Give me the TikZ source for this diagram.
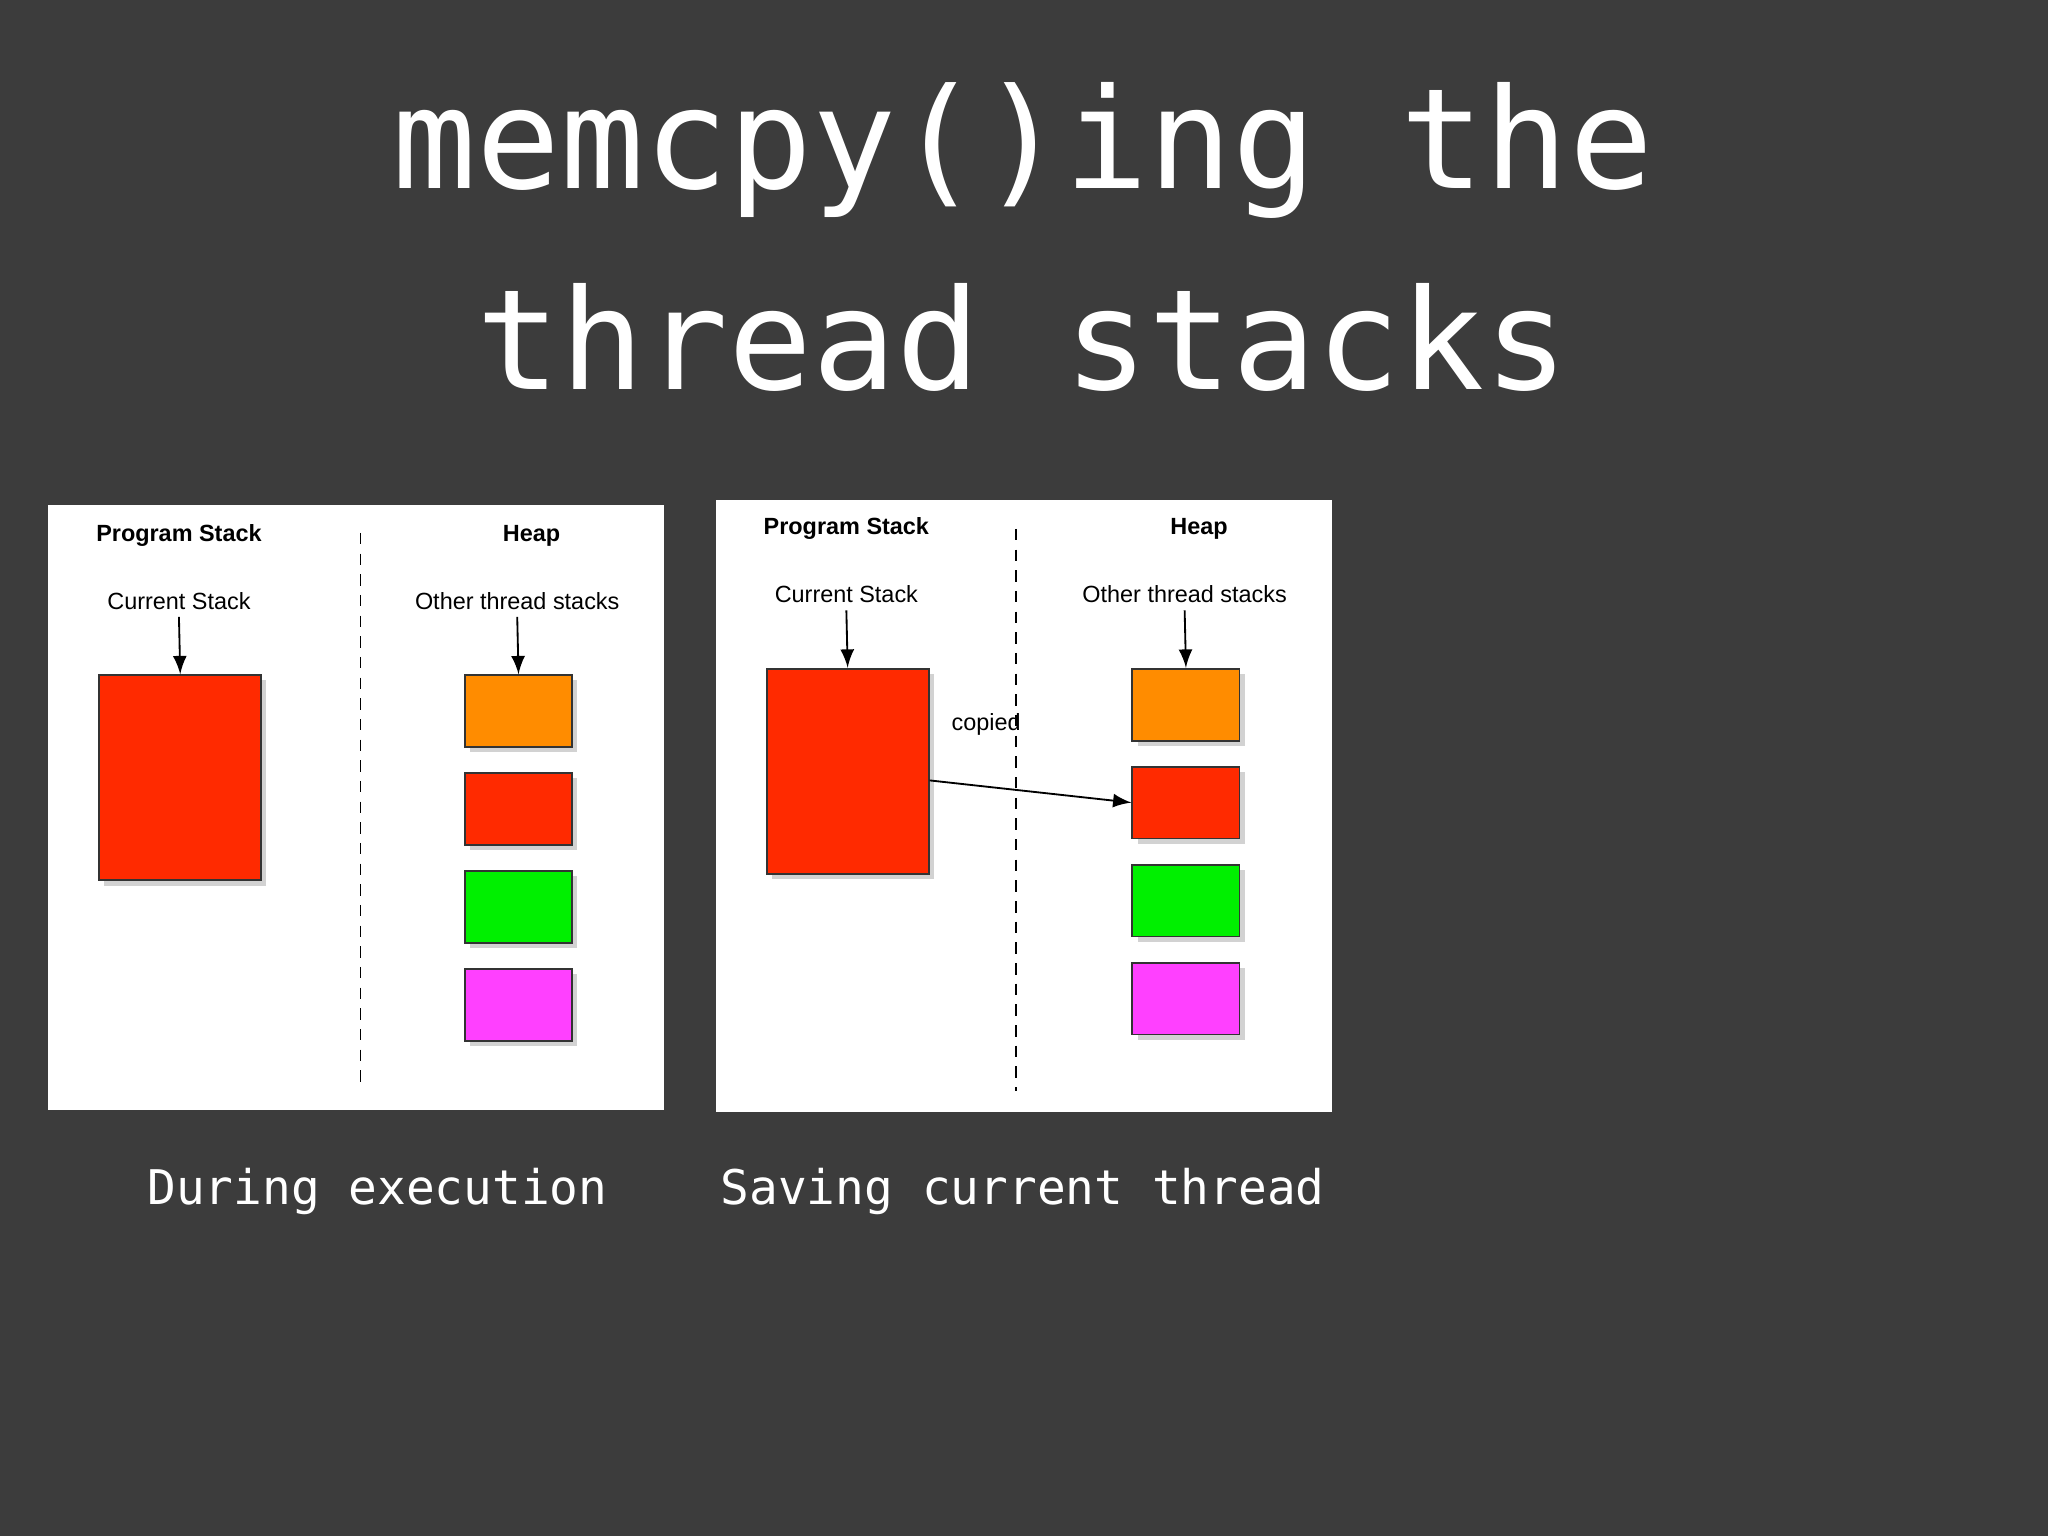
\documentclass[tikz,border=0pt]{standalone}
\usepackage{fontspec}
\setmainfont{Liberation Sans}
\newfontfamily\monof{DejaVu Sans Mono}
\usetikzlibrary{shadows}
\definecolor{bg}{HTML}{3C3C3C}
\definecolor{sred}{HTML}{FF2A00}
\definecolor{sorange}{HTML}{FF8C00}
\definecolor{sgreen}{HTML}{00F000}
\definecolor{smag}{HTML}{FF40FF}
\tikzset{
  panel/.style={fill=white,draw=none},
  blk/.style={draw=black!80,line width=0.4pt,drop shadow={shadow xshift=0.04cm,shadow yshift=-0.04cm,opacity=0.35}},
  lbl/.style={font=\fontsize{5.1}{6}\selectfont,inner sep=0pt},
  hdr/.style={font=\fontsize{5.1}{6}\selectfont\bfseries,inner sep=0pt},
  arr/.style={-latex,line width=0.4pt},
  sep/.style={dashed,line width=0.4pt,dash pattern=on 2.5pt off 2pt},
  ttl/.style={text=white,font=\monof\fontsize{30.4}{36}\selectfont,inner sep=0pt},
  captxt/.style={text=white,font=\monof\fontsize{10.4}{12}\selectfont,inner sep=0pt}
}
\begin{document}
\begin{tikzpicture}[x=0.01cm,y=-0.01cm]
\fill[bg] (0,0) rectangle (1568,1176);
\node[ttl] (t1) at (783,115) {memcpy()ing the};
\node[ttl] (t2) at (783,258) {thread stacks};
% panel 1
\fill[panel] (37,387) rectangle (508,850);
\node[hdr] (ps1) at (137,410) {Program Stack};
\node[hdr] (hp1) at (407,410) {Heap};
\coordinate (d1a) at (276,408); \coordinate (d1b) at (276,833);
\draw[sep] (d1a) -- (d1b);
\node[lbl] (cs1) at (137,460) {Current Stack};
\node[lbl] (ot1) at (396,460) {Other thread stacks};
\node[blk,fill=sred,minimum width=1.24cm,minimum height=1.57cm,inner sep=0pt] (big1) at (138,595.5) {};
\node[blk,fill=sorange,minimum width=0.82cm,minimum height=0.55cm,inner sep=0pt] (o1) at (397,544.5) {};
\node[blk,fill=sred,minimum width=0.82cm,minimum height=0.55cm,inner sep=0pt] (r1) at (397,619.5) {};
\node[blk,fill=sgreen,minimum width=0.82cm,minimum height=0.55cm,inner sep=0pt] (g1) at (397,694.5) {};
\node[blk,fill=smag,minimum width=0.82cm,minimum height=0.55cm,inner sep=0pt] (m1) at (397,769.5) {};
\draw[arr] ([yshift=-0.05cm]cs1.south) -- (big1.north);
\draw[arr] ([yshift=-0.05cm]ot1.south) -- (o1.north);
% panel 2
\fill[panel] (548,383) rectangle (1020,851);
\node[hdr] (ps2) at (648,405) {Program Stack};
\node[hdr] (hp2) at (918,405) {Heap};
\coordinate (d2a) at (778,405); \coordinate (d2b) at (778,835);
\draw[sep] (d2a) -- (d2b);
\node[lbl] (cs2) at (648,455) {Current Stack};
\node[lbl] (ot2) at (907,455) {Other thread stacks};
\node[blk,fill=sred,minimum width=1.24cm,minimum height=1.57cm,inner sep=0pt] (big2) at (649,590.5) {};
\node[blk,fill=sorange,minimum width=0.82cm,minimum height=0.55cm,inner sep=0pt] (o2) at (908,539.5) {};
\node[blk,fill=sred,minimum width=0.82cm,minimum height=0.55cm,inner sep=0pt] (r2) at (908,614.5) {};
\node[blk,fill=sgreen,minimum width=0.82cm,minimum height=0.55cm,inner sep=0pt] (g2) at (908,689.5) {};
\node[blk,fill=smag,minimum width=0.82cm,minimum height=0.55cm,inner sep=0pt] (m2) at (908,764.5) {};
\draw[arr] ([yshift=-0.05cm]cs2.south) -- (big2.north);
\draw[arr] ([yshift=-0.05cm]ot2.south) -- (o2.north);
\node[lbl] (cp) at (755,555) {copied};
\draw[arr] ([yshift=-0.07cm]big2.east) -- (r2.west);
% captions
\node[captxt] (c1) at (289,912) {During execution};
\node[captxt] (c2) at (783,912) {Saving current thread};
\end{tikzpicture}
\end{document}
